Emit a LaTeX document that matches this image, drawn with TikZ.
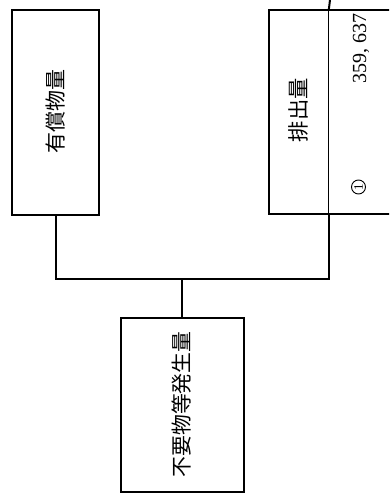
\documentclass[tikz,border=0pt]{standalone}
\usepackage{graphicx}
\usepackage{fontspec}
\setmainfont{Liberation Serif}
\newfontfamily\jpfont{Noto Sans CJK JP}
\newcommand{\fitw}[2]{\resizebox{#1}{!}{#2}}
\begin{document}
\begin{tikzpicture}[x=1pt,y=-1pt,
  boxnode/.style={draw=black,line width=2.2pt,rectangle,inner sep=0pt,fill=white},
  conn/.style={draw=black,line width=2pt},
  thinline/.style={draw=black,line width=1pt},
  jplabel/.style={rotate=90,inner sep=0pt,font=\jpfont},
  numlabel/.style={rotate=90,inner sep=0pt,font=\rmfamily},
  circnum/.style={rotate=90,draw=black,line width=0.9pt,circle,minimum size=14pt,inner sep=0pt,font=\rmfamily\fontsize{13}{13}\selectfont}]
\clip (0,0) rectangle (389,495);
\fill[white] (0,0) rectangle (389,495);
% boxes
\node[boxnode,minimum width=87pt,minimum height=205pt] (b1) at (55.5,112.5) {};
\node[boxnode,minimum width=151pt,minimum height=204pt] (b2) at (344.5,112) {};
\node[boxnode,minimum width=123pt,minimum height=174pt] (b3) at (182.5,405) {};
% labels
\node[jplabel] (t1) at (56,111) {\fitw{84pt}{有償物量}};
\node[jplabel] (t2) at (298,110) {\fitw{64pt}{排出量}};
\node[jplabel] (t3) at (182,404.5) {\fitw{146pt}{不要物等発生量}};
\node[numlabel] (n1) at (361,48) {\fitw{70pt}{359, 637}};
\node[circnum] (c1) at (358.5,187) {1};
% divider inside b2
\path (b2.north west) ++(61,0) coordinate (dtop);
\path (b2.south west) ++(61,0) coordinate (dbot);
\draw[thinline] (dtop) -- (dbot);
% connectors
\coordinate (topend) at (330,0);
\coordinate (junc) at (181.5,278.5);
\draw[conn] (topend) -- (dtop);
\draw[conn] (b1.south) |- (junc) -| (dbot);
\draw[conn] (junc) -- (junc |- b3.north);
\end{tikzpicture}
\end{document}
